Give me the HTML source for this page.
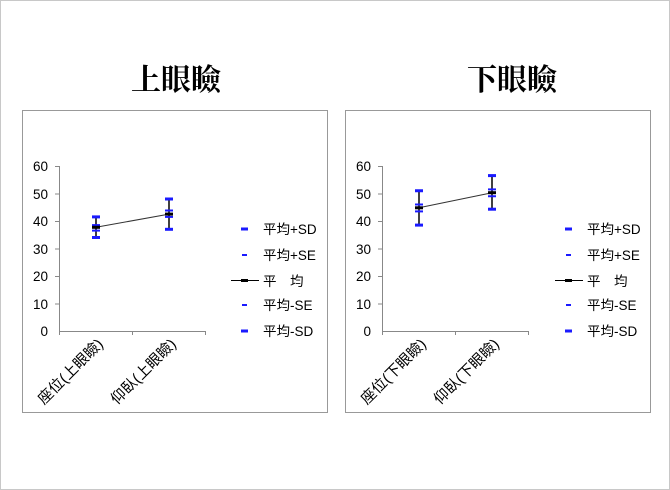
<!DOCTYPE html>
<html><head><meta charset="utf-8"><style>
html,body{margin:0;padding:0;background:#fff}
svg{display:block}
text{font-family:"Liberation Sans","Noto Sans CJK TC",sans-serif;font-size:13.5px;fill:#000}
.c{font-size:15px}
.t{font-family:"Liberation Serif","Noto Serif CJK SC",serif;font-size:30px;font-weight:bold}
</style></head><body>
<svg width="670" height="490" viewBox="0 0 670 490">
<rect x="0.5" y="0.5" width="669" height="489" fill="#fff" stroke="#c8c8c8"/>
<text class="t" x="176" y="90" text-anchor="middle">上眼瞼</text>
<text class="t" x="512" y="90" text-anchor="middle">下眼瞼</text>
<rect x="22.5" y="110.5" width="305" height="302" fill="none" stroke="#999"/>
<rect x="345.5" y="110.5" width="305" height="302" fill="none" stroke="#999"/>

<!-- LEFT -->
<g stroke="#888" stroke-width="1" fill="none">
<line x1="59.5" y1="166" x2="59.5" y2="331"/>
<line x1="59" y1="331.5" x2="205" y2="331.5"/>
<line x1="55" y1="166.5" x2="59" y2="166.5"/><line x1="55" y1="194" x2="59" y2="194"/><line x1="55" y1="221.5" x2="59" y2="221.5"/><line x1="55" y1="249" x2="59" y2="249"/><line x1="55" y1="276.5" x2="59" y2="276.5"/><line x1="55" y1="304" x2="59" y2="304"/>
<line x1="132.5" y1="331" x2="132.5" y2="335"/><line x1="205.5" y1="331" x2="205.5" y2="335"/><line x1="59.5" y1="331" x2="59.5" y2="335"/>
</g>
<g text-anchor="end">
<text x="48" y="171">60</text><text x="48" y="199">50</text><text x="48" y="226">40</text><text x="48" y="254">30</text><text x="48" y="281">20</text><text x="48" y="309">10</text><text x="48" y="336">0</text>
</g>
<text class="c" transform="translate(104,345) rotate(-45)" text-anchor="end">座位(上眼瞼)</text>
<text class="c" transform="translate(177,345) rotate(-45)" text-anchor="end">仰臥(上眼瞼)</text>
<line x1="96" y1="227.3" x2="169" y2="214.1" stroke="#333" stroke-width="1"/>
<g stroke="#000" stroke-width="1.5"><line x1="96" y1="216.9" x2="96" y2="237.5"/><line x1="169" y1="199" x2="169" y2="229.3"/></g>
<g stroke="#1a1aff">
<line x1="92" x2="100" y1="216.9" y2="216.9" stroke-width="3"/><line x1="92" x2="100" y1="237.5" y2="237.5" stroke-width="3"/>
<line x1="92" x2="100" y1="225.1" y2="225.1" stroke-width="2"/><line x1="92" x2="100" y1="230.6" y2="230.6" stroke-width="2"/>
<line x1="165" x2="173" y1="199" y2="199" stroke-width="3"/><line x1="165" x2="173" y1="229.3" y2="229.3" stroke-width="3"/>
<line x1="165" x2="173" y1="210.5" y2="210.5" stroke-width="2"/><line x1="165" x2="173" y1="216.9" y2="216.9" stroke-width="2"/>
</g>
<g stroke="#000" stroke-width="3"><line x1="92" x2="100" y1="227.3" y2="227.3"/><line x1="165" x2="173" y1="214.1" y2="214.1"/></g>
<!-- legend left -->
<g stroke="#1a1aff"><line x1="241" x2="248" y1="229" y2="229" stroke-width="3"/><line x1="242" x2="247" y1="255" y2="255" stroke-width="2"/><line x1="242" x2="247" y1="305" y2="305" stroke-width="2"/><line x1="241" x2="248" y1="331" y2="331" stroke-width="3"/></g>
<line x1="231" x2="259" y1="280.5" y2="280.5" stroke="#000" stroke-width="1"/><line x1="241" x2="248" y1="280.5" y2="280.5" stroke="#000" stroke-width="3"/>
<text x="263" y="234">平均+SD</text><text x="263" y="260">平均+SE</text><text x="263" y="286">平　均</text><text x="263" y="310">平均-SE</text><text x="263" y="336">平均-SD</text>

<!-- RIGHT -->
<g stroke="#888" stroke-width="1" fill="none">
<line x1="382.5" y1="166" x2="382.5" y2="331"/>
<line x1="382" y1="331.5" x2="528" y2="331.5"/>
<line x1="378" y1="166.5" x2="382" y2="166.5"/><line x1="378" y1="194" x2="382" y2="194"/><line x1="378" y1="221.5" x2="382" y2="221.5"/><line x1="378" y1="249" x2="382" y2="249"/><line x1="378" y1="276.5" x2="382" y2="276.5"/><line x1="378" y1="304" x2="382" y2="304"/>
<line x1="455.5" y1="331" x2="455.5" y2="335"/><line x1="528.5" y1="331" x2="528.5" y2="335"/><line x1="382.5" y1="331" x2="382.5" y2="335"/>
</g>
<g text-anchor="end">
<text x="371" y="171">60</text><text x="371" y="199">50</text><text x="371" y="226">40</text><text x="371" y="254">30</text><text x="371" y="281">20</text><text x="371" y="309">10</text><text x="371" y="336">0</text>
</g>
<text class="c" transform="translate(427,345) rotate(-45)" text-anchor="end">座位(下眼瞼)</text>
<text class="c" transform="translate(500,345) rotate(-45)" text-anchor="end">仰臥(下眼瞼)</text>
<line x1="419" y1="207.8" x2="492" y2="192.7" stroke="#333" stroke-width="1"/>
<g stroke="#000" stroke-width="1.5"><line x1="419" y1="190.75" x2="419" y2="225.1"/><line x1="492" y1="175.6" x2="492" y2="209.2"/></g>
<g stroke="#1a1aff">
<line x1="415" x2="423" y1="190.75" y2="190.75" stroke-width="3"/><line x1="415" x2="423" y1="225.1" y2="225.1" stroke-width="3"/>
<line x1="415" x2="423" y1="204.5" y2="204.5" stroke-width="2"/><line x1="415" x2="423" y1="211.4" y2="211.4" stroke-width="2"/>
<line x1="488" x2="496" y1="175.6" y2="175.6" stroke-width="3"/><line x1="488" x2="496" y1="209.2" y2="209.2" stroke-width="3"/>
<line x1="488" x2="496" y1="189.4" y2="189.4" stroke-width="2"/><line x1="488" x2="496" y1="196.25" y2="196.25" stroke-width="2"/>
</g>
<g stroke="#000" stroke-width="3"><line x1="415" x2="423" y1="207.8" y2="207.8"/><line x1="488" x2="496" y1="192.7" y2="192.7"/></g>
<!-- legend right -->
<g stroke="#1a1aff"><line x1="565" x2="572" y1="229" y2="229" stroke-width="3"/><line x1="566" x2="571" y1="255" y2="255" stroke-width="2"/><line x1="566" x2="571" y1="305" y2="305" stroke-width="2"/><line x1="565" x2="572" y1="331" y2="331" stroke-width="3"/></g>
<line x1="555" x2="583" y1="280.5" y2="280.5" stroke="#000" stroke-width="1"/><line x1="565" x2="572" y1="280.5" y2="280.5" stroke="#000" stroke-width="3"/>
<text x="587" y="234">平均+SD</text><text x="587" y="260">平均+SE</text><text x="587" y="286">平　均</text><text x="587" y="310">平均-SE</text><text x="587" y="336">平均-SD</text>
</svg>
</body></html>
